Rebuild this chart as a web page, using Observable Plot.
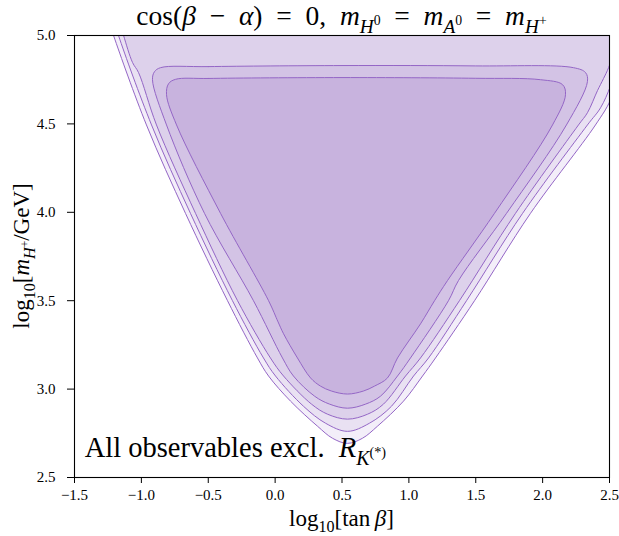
<!DOCTYPE html>
<html>
<head>
<meta charset="utf-8">
<script src="https://cdn.jsdelivr.net/npm/d3@7"></script>
<script src="https://cdn.jsdelivr.net/npm/@observablehq/plot@0.6"></script>
<style>
  body { margin: 0; background: #fff; }
</style>
</head>
<body>
<div id="chart"></div>
<script>
// Confidence contours in the (log10 tan β, log10 m_H+) plane, outermost first.
// Each contour is a closed outline of [log10 tanβ, log10 m_H+] vertices.
const level1 = [
  [-1.30, 5.20], [-1.25, 5.10], [-1.208, 5.00], [-0.962, 4.494], [-0.670, 3.994],
  [-0.356, 3.500], [-0.132, 3.176], [-0.049, 3.074], [0.115, 2.932], [0.317, 2.790],
  [0.429, 2.722], [0.541, 2.693], [0.653, 2.722], [0.765, 2.790], [0.960, 2.932],
  [1.102, 3.074], [1.199, 3.176], [1.491, 3.500], [1.909, 3.994], [2.395, 4.494],
  [2.508, 4.636], [2.60, 4.85], [2.70, 5.20]
];
const level2 = [
  [-1.25, 5.20], [-1.21, 5.10], [-1.171, 5.00], [-0.924, 4.494], [-0.633, 3.994],
  [-0.319, 3.500], [-0.087, 3.176], [0.003, 3.074], [0.212, 2.903], [0.377, 2.807],
  [0.541, 2.761], [0.705, 2.807], [0.870, 2.903], [1.035, 3.074], [1.147, 3.176],
  [1.431, 3.500], [1.850, 3.994], [2.335, 4.494], [2.433, 4.591], [2.508, 4.716],
  [2.58, 4.90], [2.65, 5.20]
];
const level3 = [
  [-1.20, 5.20], [-1.17, 5.10], [-1.133, 5.00], [-1.066, 4.847], [-1.021, 4.790],
  [-0.887, 4.494], [-0.595, 3.994], [-0.281, 3.500], [-0.035, 3.176], [0.063, 3.074],
  [0.272, 2.915], [0.392, 2.858], [0.541, 2.830], [0.691, 2.858], [0.810, 2.915],
  [0.975, 3.074], [1.087, 3.176], [1.378, 3.500], [1.797, 3.994], [2.268, 4.494],
  [2.335, 4.563], [2.410, 4.688], [2.455, 4.756], [2.493, 4.818], [2.55, 4.95], [2.60, 5.20]
];
const level4 = [
  [-0.857, 4.818], [-0.5, 4.824], [0.5, 4.830], [1.5, 4.828], [2.231, 4.818],
  [2.321, 4.790], [2.335, 4.739], [2.178, 4.494], [1.730, 3.994], [1.371, 3.614],
  [1.296, 3.500], [1.012, 3.176], [0.915, 3.074], [0.788, 2.960], [0.676, 2.915],
  [0.541, 2.892], [0.407, 2.915], [0.295, 2.960], [0.137, 3.074], [0.055, 3.176],
  [-0.162, 3.500], [-0.528, 3.994], [-0.812, 4.494], [-0.917, 4.750], [-0.902, 4.795]
];
const level5 = [
  [-0.745, 4.752], [-0.5, 4.757], [0.5, 4.762], [1.5, 4.758], [1.984, 4.750],
  [2.149, 4.722], [2.171, 4.665], [2.074, 4.494], [1.640, 3.994], [1.289, 3.614],
  [1.192, 3.500], [1.087, 3.369], [0.915, 3.176], [0.840, 3.063], [0.743, 3.017],
  [0.660, 2.989], [0.541, 2.972], [0.421, 2.989], [0.339, 3.017], [0.265, 3.063],
  [0.167, 3.176], [0.063, 3.313], [0.022, 3.380], [-0.049, 3.500],
  [-0.408, 3.994], [-0.737, 4.494], [-0.812, 4.665], [-0.797, 4.727]
];
const levels = [level1, level2, level3, level4, level5];
const levelFills = ["#f3eef9", "#e9e1f2", "#ddd1eb", "#d3c3e5", "#c8b3de"];
const lineColor = "#9466c6";

const xTicks = [-1.5, -1.0, -0.5, 0.0, 0.5, 1.0, 1.5, 2.0, 2.5];
const yTicks = [2.5, 3.0, 3.5, 4.0, 4.5, 5.0];

// Rich-text labels: [text, style]
const titleParts = [["cos(", "r"], ["β", "i"], ["\u2002−\u2002", "r"], ["α", "i"], [")\u2002=\u20020,\u2002", "r"],
  ["m", "i"], ["H", "subi"], ["0", "ss"], ["\u2002=\u2002", "r"], ["m", "i"], ["A", "subi"], ["0", "ss"],
  ["\u2002=\u2002", "r"], ["m", "i"], ["H", "subi"], ["+", "ss"]];
const xLabelParts = [["log", "r"], ["10", "sub"], ["[tan\u2009", "r"], ["β", "i"], ["]", "r"]];
const yLabelParts = [["log", "r"], ["10", "sub"], ["[", "r"], ["m", "i"], ["H", "subi"], ["+", "ss"], ["/GeV]", "r"]];
const noteParts = [["All observables excl.\u2002", "r"], ["R", "i"], ["K", "subi"], ["(*)", "ss"]];

const fmt = d => d.toFixed(1).replace("-", "−");
const serif = "'Liberation Serif', 'Times New Roman', serif";

const plot = Plot.plot({
  width: 619,
  height: 536,
  marginLeft: 74,
  marginRight: 10,
  marginTop: 35,
  marginBottom: 59,
  style: {fontFamily: serif, fontSize: "15px", color: "black", background: "white"},
  x: {domain: [-1.5, 2.5], ticks: xTicks, tickFormat: fmt, tickSize: 6, tickPadding: 6, label: null},
  y: {domain: [2.5, 5.0], ticks: yTicks, tickFormat: fmt, tickSize: 7, tickPadding: 12, label: null},
  marks: [
    ...levels.map((pts, i) => Plot.line(pts, {
      x: d => d[0], y: d => d[1],
      curve: "catmull-rom-closed",
      fill: levelFills[i], stroke: lineColor, strokeWidth: 1,
      clip: true
    })),
    Plot.frame({stroke: "black", strokeWidth: 1.1})
  ]
});

document.getElementById("chart").appendChild(plot);

const svg = d3.select(plot);
const [x0, x1] = plot.scale("x").range;
const [yb, yt] = plot.scale("y").range;
const xm = (x0 + x1) / 2, ym = (yb + yt) / 2;

const STY = {
  r: {s: 1, off: 0, it: false},
  i: {s: 1, off: 0, it: true},
  sub: {s: 0.7, off: 0.28, it: false},
  subi: {s: 0.7, off: 0.28, it: true},
  ss: {s: 0.5, off: 0.0, it: false}
};
function rich(parts, size, x, y, anchor, rotate) {
  const t = svg.append("text")
    .attr("font-family", serif).attr("font-size", size).attr("fill", "black")
    .attr("text-anchor", anchor)
    .attr("transform", `translate(${x},${y})` + (rotate ? ` rotate(${rotate})` : ""));
  let prev = 0;
  for (const [str, key] of parts) {
    const st = STY[key];
    t.append("tspan")
      .attr("font-size", size * st.s)
      .attr("font-style", st.it ? "italic" : "normal")
      .attr("dy", (st.off - prev) * size)
      .text(str);
    prev = st.off;
  }
  return t;
}

rich(titleParts, 27.5, xm, yt - 10, "middle");
rich(xLabelParts, 23, xm, yb + 49, "middle");
rich(yLabelParts, 23, x0 - 45, ym, "middle", -90);
rich(noteParts, 28.5, x0 + 0.02 * (x1 - x0), yb - 0.045 * (yb - yt), "start");
</script>
</body>
</html>
